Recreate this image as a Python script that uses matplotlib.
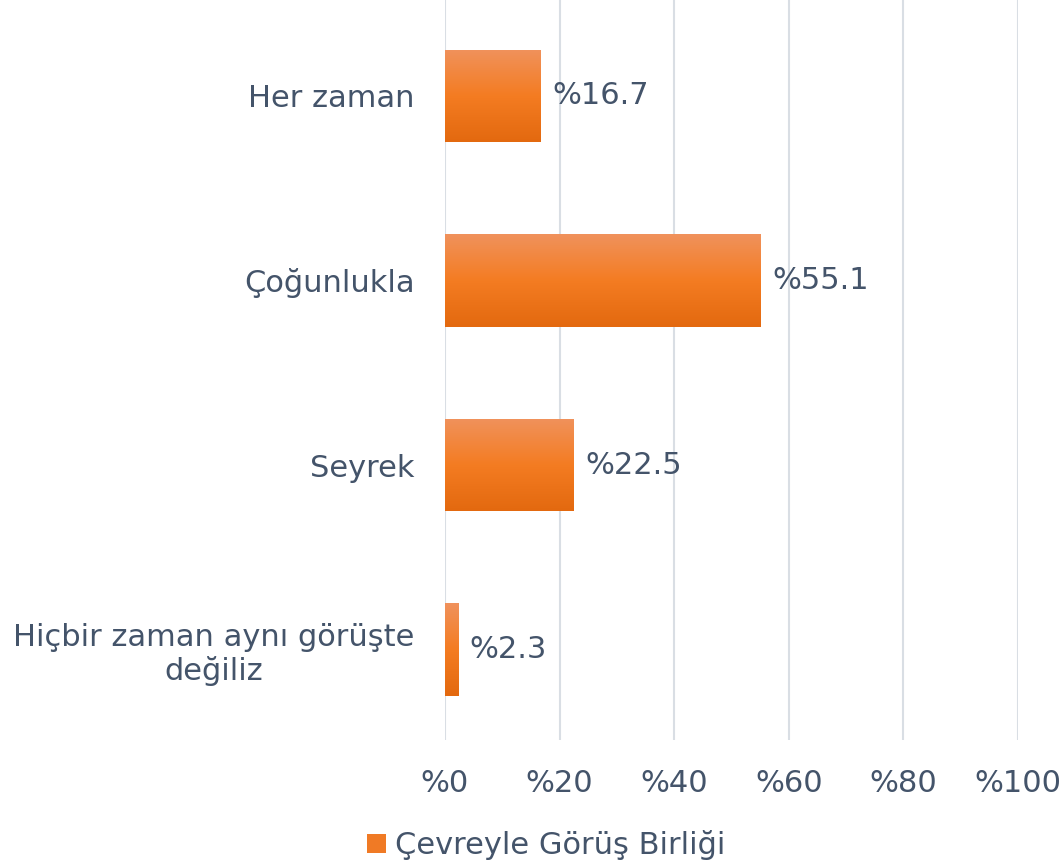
import numpy as np
import matplotlib
matplotlib.use("Agg")
import matplotlib.pyplot as plt
from matplotlib.colors import LinearSegmentedColormap
from matplotlib.patches import Patch

categories = ["Her zaman", "Çoğunlukla", "Seyrek", "Hiçbir zaman aynı görüşte\ndeğiliz"]
values = [16.7, 55.1, 22.5, 2.3]
xticks = [0, 20, 40, 60, 80, 100]
xtick_labels = ["%0", "%20", "%40", "%60", "%80", "%100"]
series_name = "Çevreyle Görüş Birliği"

txt_col = "#44546A"
grid_col = "#D9DEE4"
grad = LinearSegmentedColormap.from_list("og", ["#F0925C", "#F47C22", "#E3690F"])

plt.rcParams['font.family'] = ['DejaVu Sans']
fs = 22

fig = plt.figure(figsize=(10.61, 8.67), dpi=100)
ax = fig.add_axes([0.4194, 0.1465, 0.5401, 0.8535])

y = np.arange(len(categories))
bars = ax.barh(y, values, height=0.5, color="#F47C22", zorder=2)

# vertical gradient in every bar
g = np.linspace(0, 1, 256).reshape(-1, 1)
for b in bars:
    x0, y0 = b.get_x(), b.get_y()
    w, h = b.get_width(), b.get_height()
    im = ax.imshow(g, cmap=grad, aspect="auto", extent=(x0, x0 + w, y0 + h, y0),
                   origin="upper", zorder=3)
    im.set_clip_path(b)

for yi, v in zip(y, values):
    ax.text(v + 2.0, yi, "%" + f"{v:.1f}", va="center", ha="left",
            fontsize=fs, color=txt_col, zorder=4)

ax.set_xlim(0, 100)
ax.set_ylim(3.49, -0.52)
ax.set_xticks(xticks)
ax.set_xticklabels(xtick_labels)
ax.set_yticks(y)
ax.set_yticklabels(categories, multialignment="center", linespacing=1.15)
ax.tick_params(axis="both", length=0, labelsize=fs, labelcolor=txt_col)
ax.tick_params(axis="x", pad=21)
ax.tick_params(axis="y", pad=22)
ax.grid(axis="x", color=grid_col, linewidth=1.5, zorder=0)
ax.set_axisbelow(True)
for s in ax.spines.values():
    s.set_visible(False)

fig.legend(handles=[Patch(facecolor="#F07A25", label=series_name)],
           loc="center", bbox_to_anchor=(0.515, 0.025), frameon=False,
           fontsize=fs, labelcolor=txt_col, handlelength=0.6, handleheight=0.6,
           handletextpad=0.3)

fig.savefig("out.png", dpi=100)
